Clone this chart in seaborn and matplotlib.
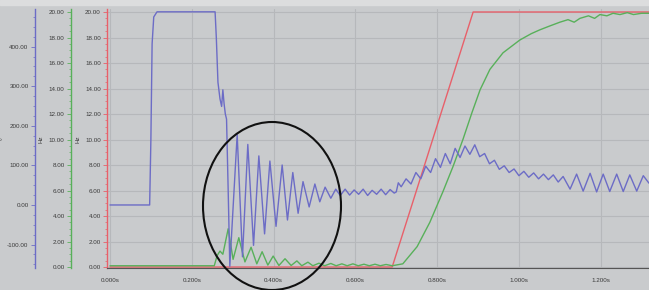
import matplotlib
matplotlib.use("Agg")
import matplotlib.pyplot as plt
from matplotlib.patches import Ellipse, Rectangle
from matplotlib.ticker import MultipleLocator, FormatStrFormatter, FuncFormatter
import seaborn as sns

# ---------- data ----------
# red: speed setpoint ramp (Hz)
red_t = [0.000, 0.690, 0.888, 1.318]
red_hz = [0.0, 0.0, 20.0, 20.0]

# green: measured speed (Hz)
green_t = [0.000, 0.255, 0.262, 0.269, 0.276, 0.289, 0.301, 0.315, 0.330, 0.345,
           0.359, 0.372, 0.386, 0.399, 0.413, 0.428, 0.443, 0.457, 0.469, 0.484,
           0.496, 0.511, 0.525, 0.540, 0.553, 0.567, 0.580, 0.594, 0.607, 0.621,
           0.634, 0.648, 0.661, 0.675, 0.690, 0.716, 0.751, 0.782, 0.814, 0.839,
           0.863, 0.885, 0.905, 0.929, 0.961, 1.002, 1.030, 1.051, 1.075, 1.100,
           1.120, 1.135, 1.149, 1.170, 1.185, 1.198, 1.215, 1.230, 1.247, 1.265,
           1.280, 1.300, 1.318]
green_hz = [0.1, 0.1, 0.9, 1.25, 1.0, 3.0, 0.6, 2.3, 0.4, 1.55,
            0.25, 1.2, 0.15, 0.86, 0.12, 0.65, 0.12, 0.48, 0.1, 0.38,
            0.1, 0.3, 0.1, 0.28, 0.1, 0.25, 0.1, 0.25, 0.1, 0.22,
            0.1, 0.22, 0.1, 0.2, 0.1, 0.25, 1.6, 3.5, 5.9, 7.9,
            10.0, 12.1, 13.9, 15.5, 16.8, 17.8, 18.3, 18.6, 18.9, 19.2,
            19.4, 19.2, 19.5, 19.7, 19.5, 19.8, 19.7, 19.9, 19.8, 19.95,
            19.8, 19.9, 19.9]

# blue: angle trace (own axis)
blue_t = [0.000, 0.097, 0.100, 0.103, 0.107, 0.115, 0.257, 0.260, 0.264, 0.269,
          0.273, 0.276, 0.279, 0.282, 0.285, 0.289, 0.293,
          0.311, 0.324, 0.337, 0.351, 0.364, 0.378, 0.391, 0.406, 0.421, 0.434,
          0.447, 0.460, 0.472, 0.487, 0.501, 0.513, 0.526, 0.540,
          0.552, 0.563, 0.575, 0.586, 0.597, 0.608, 0.619, 0.630, 0.641, 0.652,
          0.663, 0.674, 0.685, 0.695, 0.700,
          0.705, 0.712, 0.724, 0.736, 0.748, 0.760, 0.772, 0.784, 0.796, 0.808,
          0.820, 0.832, 0.844, 0.856, 0.868, 0.880, 0.892, 0.904, 0.916, 0.928,
          0.940, 0.952, 0.964, 0.976, 0.988, 1.000, 1.012, 1.024, 1.036, 1.048,
          1.060, 1.072, 1.084, 1.096,
          1.108, 1.125, 1.141, 1.157, 1.174, 1.190, 1.206, 1.222, 1.239, 1.255,
          1.271, 1.288, 1.304, 1.318]
blue_deg = [0, 0, 165, 407, 475, 488, 488, 423, 310, 268,
            249, 291, 256, 230, 217, 37, -155,
            178, -131, 153, -102, 124, -73, 111, -54, 101, -38,
            82, -21, 59, -5, 53, 8, 45, 17,
            40, 24, 40, 25, 38, 27, 40, 24, 37, 27,
            40, 26, 39, 30, 33,
            56, 46, 66, 53, 82, 66, 98, 82, 117, 95,
            130, 104, 143, 120, 149, 128, 152, 122, 130, 104,
            113, 90, 99, 82, 91, 74, 85, 70, 81, 66,
            78, 64, 76, 58,
            72, 40, 78, 35, 80, 33, 78, 34, 78, 34,
            76, 35, 74, 55]

x_ticks = [0.0, 0.2, 0.4, 0.6, 0.8, 1.0, 1.2]

# ---------- style ----------
BG = "#c9cbcd"
GRID = "#b6b8bb"
RED = "#e8606a"
GREEN = "#58b05a"
BLUE = "#6c6cc6"
TXT = "#3a3a3a"

sns.set_style("white")
plt.rcParams["font.family"] = ["Liberation Sans", "DejaVu Sans"]

fig = plt.figure(figsize=(6.49, 2.9), dpi=100)
fig.patch.set_facecolor(BG)
fig.add_artist(Rectangle((0, 1 - 5 / 290), 1, 5 / 290, transform=fig.transFigure,
                         color="#dcddde", zorder=0))

ax = fig.add_axes([107 / 649, 1 - 268.3 / 290, 542 / 649, 258.85 / 290])
ax.set_facecolor(BG)
ax_g = ax.twinx()
ax_b = ax.twinx()

sns.lineplot(x=red_t, y=red_hz, ax=ax, color=RED, lw=1.0, estimator=None)
sns.lineplot(x=green_t, y=green_hz, ax=ax_g, color=GREEN, lw=1.0, estimator=None)
sns.lineplot(x=blue_t, y=blue_deg, ax=ax_b, color=BLUE, lw=1.0, estimator=None)

ax.set_xlim(-0.0073, 1.318)
ax.set_ylim(-0.1, 20.2)
ax_g.set_ylim(-0.1, 20.2)
ax_b.set_ylim(-160, 494)

# grid on main axes
ax.set_axisbelow(True)
ax.grid(True, color=GRID, lw=0.8)
ax.xaxis.set_minor_locator(MultipleLocator(0.1))
ax.set_xticks(x_ticks)
ax.xaxis.set_major_formatter(FuncFormatter(lambda v, p: f"{v:.3f}s"))

for a, col, off, minor in [(ax, RED, 0, 0.5), (ax_g, GREEN, 26, 0.5), (ax_b, BLUE, 52, 25)]:
    a.yaxis.set_ticks_position("left")
    a.yaxis.set_label_position("left")
    a.spines["left"].set_position(("outward", off))
    a.spines["left"].set_color(col)
    a.spines["left"].set_linewidth(1.0)
    a.spines["left"].set_visible(True)
    for s in ["right", "top"]:
        a.spines[s].set_visible(False)
    if a is not ax:
        a.spines["bottom"].set_visible(False)
    a.yaxis.set_minor_locator(MultipleLocator(minor))
    a.yaxis.set_major_formatter(FormatStrFormatter("%.2f"))
    a.tick_params(axis="y", which="major", length=3, width=0.6, color=col,
                  labelsize=4.5, labelcolor=TXT, pad=1.5)
    a.tick_params(axis="y", which="minor", length=1.5, width=0.5, color=col)

ax.set_yticks(range(0, 21, 2))
ax_g.set_yticks(range(0, 21, 2))
ax_b.set_yticks(range(-100, 401, 100))

ax.spines["bottom"].set_color("#555555")
ax.spines["bottom"].set_linewidth(0.8)
ax.tick_params(axis="x", which="major", length=3, width=0.6, color="#555555",
               labelsize=4.5, labelcolor=TXT, pad=4)
ax.tick_params(axis="x", which="minor", length=1.5, width=0.5, color="#555555")

ax.set_ylabel("Hz", fontsize=4.5, color=TXT)
ax_g.set_ylabel("Hz", fontsize=4.5, color=TXT)
ax_b.set_ylabel("°", fontsize=5, color=TXT)
ax.yaxis.set_label_coords(-0.0498, 0.5)
ax_g.yaxis.set_label_coords(-0.118, 0.5)
ax_b.yaxis.set_label_coords(-0.182, 0.5)

# hand-drawn circle around the oscillation
fig.add_artist(Ellipse((272 / 649, 1 - 206 / 290), 138 / 649, 168 / 290,
                       transform=fig.transFigure, fill=False,
                       edgecolor="#111111", lw=1.5, zorder=10))

fig.savefig("out.png", dpi=100, facecolor=BG)
